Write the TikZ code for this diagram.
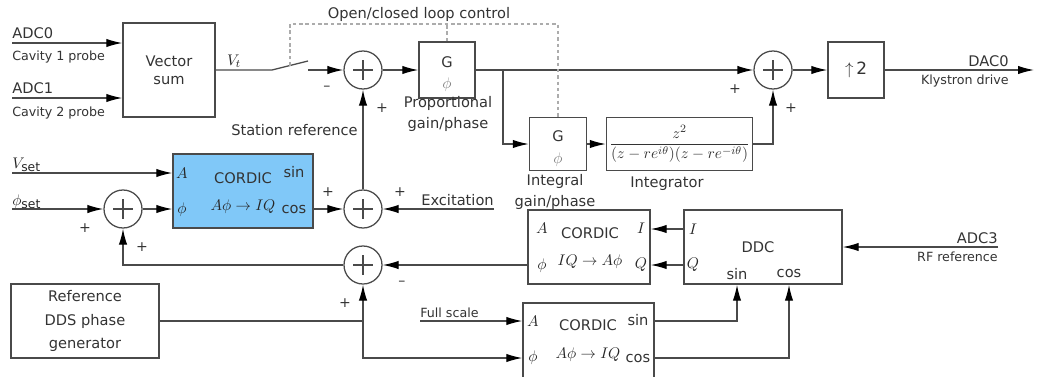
\documentclass[tikz,border=0pt]{standalone}
\usepackage{fontspec}
\setmainfont{DejaVu Sans}
\usetikzlibrary{arrows.meta, positioning, calc}
\definecolor{wire}{HTML}{4A4A4A}
\definecolor{txt}{HTML}{333333}
\definecolor{cordicbg}{HTML}{80C8F8}
\tikzset{
  blk/.style={draw=wire, line width=1pt, minimum width=1.4cm, minimum height=1.4cm,
              align=center, font=\fontsize{10.4}{13}\selectfont, text=txt, inner sep=2pt},
  sumnd/.style={draw=wire, circle, minimum size=0.95cm, inner sep=0pt, line width=0.9pt,
                path picture={\draw[wire, line width=0.8pt]
                  ([xshift=-0.24cm]path picture bounding box.center) --
                  ([xshift=0.24cm]path picture bounding box.center)
                  ([yshift=-0.24cm]path picture bounding box.center) --
                  ([yshift=0.24cm]path picture bounding box.center);}},
  arr/.style={-{Latex[length=4mm,width=2.1mm,black]}, line width=0.9pt, wire},
  wir/.style={line width=0.9pt, wire},
  ctl/.style={line width=0.8pt, gray!65, dash pattern=on 2.5pt off 2pt},
  sgn/.style={font=\fontsize{10}{11}\selectfont, text=txt, inner sep=0pt},
  lbl/.style={font=\fontsize{10.4}{12}\selectfont, text=txt, inner sep=0pt},
  sublbl/.style={font=\fontsize{9}{10}\selectfont, text=txt, inner sep=0pt},
  port/.style={inner sep=0pt, text=black!85, font=\fontsize{11}{13}\selectfont},
}

\begin{document}
\begin{tikzpicture}[x=0.025cm, y=-0.025cm]
  \useasboundingbox (0,0) rectangle (1037,376);

  %% ── Forward path (top) ───────────────────────────────────────────────

  \node[blk, minimum width=2.3cm, minimum height=2.35cm] (vsum) at (169,70) {Vector\\sum};
  \node[sumnd] (s1) at (363,70) {};
  \node[blk] (gp) at (447,70) {};
  \node[lbl] (gpG) at (447,62) {G};
  \node[port, text=gray] (gpPhi) at (447,85) {$\phi$};
  \node[sumnd] (s2) at (773,70) {};
  \node[blk, font=\fontsize{12}{13}\selectfont] (up2) at (856,70) {$\uparrow$\,2};

  \node[blk, minimum width=1.425cm, minimum height=1.33cm] (gi) at (558,144) {};
  \node[lbl] (giG) at (558,136) {G};
  \node[port, text=gray] (giPhi) at (558,160) {$\phi$};
  \node[blk, minimum width=3.275cm, minimum height=1.33cm, font=\fontsize{10.8}{13}\selectfont]
    (integ) at (679.5,144) {$\displaystyle\frac{z^2}{(z-re^{i\theta})(z-re^{-i\theta})}$};

  % inputs and labels
  \coordinate (in0) at (12,43);
  \coordinate (in1) at (12,98);
  \node[lbl, anchor=west] (adc0) at (12,33) {ADC0};
  \node[sublbl, anchor=west] (cav1) at (12,57) {Cavity 1 probe};
  \node[lbl, anchor=west] (adc1) at (12,88) {ADC1};
  \node[sublbl, anchor=west] (cav2) at (12,113) {Cavity 2 probe};
  \node[port] (vt) at (234,61) {$V_t$};

  \node[lbl, align=center, font=\fontsize{10.4}{15}\selectfont] (gplbl) at (448,114)
    {Proportional\\gain/phase};
  \node[lbl, align=center, font=\fontsize{10.4}{15}\selectfont] (gilbl) at (555,192)
    {Integral\\gain/phase};
  \node[lbl] (intlbl) at (667,184) {Integrator};
  \node[lbl] (ctllbl) at (419,14) {Open/closed loop control};

  \node[lbl, anchor=east] (dac0) at (1009,61) {DAC0};
  \node[sublbl, anchor=east] (kly) at (1009,81) {Klystron drive};
  \coordinate (out0) at (1034,70);

  % switch and control line
  \coordinate (sw1) at (272,70);
  \coordinate (sw2) at (308,61);
  \coordinate (sw3) at (308,70);
  \coordinate (swmid) at (290,65.5);
  \coordinate (ctlL) at (290,24);
  \coordinate (tap) at (503,70);

  \draw[arr] (in0) -- (vsum.west |- in0);
  \draw[arr] (in1) -- (vsum.west |- in1);
  \draw[wir] (vsum.east |- sw1) -- (sw1) -- (sw2);
  \draw[arr] (sw3) -- (s1);
  \draw[arr] (s1) -- (gp.west |- s1);
  \draw[arr] (gp.east |- s2) -- (s2);
  \draw[arr] (tap) |- (gi);
  \draw[arr] (gi) -- (integ);
  \draw[arr] (integ) -| (s2);
  \draw[arr] (s2) -- (up2);
  \draw[arr] (up2) -- (out0);
  \draw[ctl] (swmid) -- (ctlL) -| (gi.north);
  \draw[ctl] (gp.north) -- (gp.north |- ctlL);

  \node[sgn] (m1) at (327,88) {–};
  \node[sgn] (p1) at (382,108) {+};
  \node[sgn] (p2) at (735,89) {+};
  \node[sgn] (p3) at (791,108) {+};

  %% ── Set point and station reference (middle left) ──────────────────

  \node[blk, fill=cordicbg, minimum width=3.5cm, minimum height=1.85cm] (ca) at (243,191) {};
  \node[port] (caA) at (182,173) {$A$};
  \node[lbl] (caCord) at (243,178) {CORDIC};
  \node[lbl] (caSin) at (294,172) {sin};
  \node[port] (caPhi) at (182,210) {$\phi$};
  \node[port] (caMap) at (243,207) {$A\phi\rightarrow IQ$};
  \node[lbl] (caCos) at (294,210) {cos};

  \node[sumnd] (s3) at (123,209) {};
  \node[sumnd] (s4) at (363,209) {};
  \node[sumnd] (s5) at (363,265) {};

  \node[port, anchor=west] (vset) at (12,165) {$V_{\mbox{\fontsize{8.8}{9}\selectfont set}}$};
  \node[port, anchor=west] (phiset) at (12,202) {$\phi_{\mbox{\fontsize{8.8}{9}\selectfont set}}$};
  \coordinate (vsetin) at (12,173);
  \coordinate (phiin) at (12,209);
  \node[lbl, anchor=east] (stref) at (358,130) {Station reference};
  \node[lbl, anchor=east] (exc) at (494,200) {Excitation};
  \coordinate (excin) at (494,209);

  \draw[arr] (vsetin) -- (ca.west |- vsetin);
  \draw[arr] (phiin) -- (s3);
  \draw[arr] (s3) -- (ca.west |- s3);
  \draw[arr] (ca.east |- s4) -- (s4);
  \draw[arr] (excin) -- (s4);
  \draw[arr] (s4) -- (s1);
  \draw[arr] (s5) -| (s3);

  \node[sgn] (p4) at (85,228) {+};
  \node[sgn] (p5) at (142,247) {+};
  \node[sgn] (p6) at (328,192) {+};
  \node[sgn] (p7) at (400,192) {+};
  \node[sgn] (m2) at (402,283) {–};
  \node[sgn] (p8) at (345,303) {+};

  %% ── Reference phase, DDC and CORDICs (bottom) ──────────────────────

  \node[blk, minimum width=3.7cm, minimum height=1.85cm,
        font=\fontsize{10.4}{16.7}\selectfont] (dds) at (85,321) {Reference\\DDS phase\\generator};

  \node[blk, minimum width=3.05cm, minimum height=1.85cm] (cb) at (589,247) {};
  \node[port] (cbA) at (542,228) {$A$};
  \node[lbl] (cbCord) at (590,233) {CORDIC};
  \node[port] (cbI) at (641,228) {$I$};
  \node[port] (cbPhi) at (542,266) {$\phi$};
  \node[port] (cbMap) at (590,262) {$IQ\rightarrow A\phi$};
  \node[port] (cbQ) at (641,265) {$Q$};

  \node[blk, minimum width=3.95cm, minimum height=1.85cm] (ddc) at (763,247) {};
  \node[lbl] (ddcLbl) at (758,247) {DDC};
  \node[port] (ddcI) at (693,229) {$I$};
  \node[port] (ddcQ) at (693,265) {$Q$};
  \node[lbl] (ddcSin) at (737,274) {sin};
  \node[lbl] (ddcCos) at (789,274) {cos};

  \node[blk, minimum width=3.275cm, minimum height=1.9cm] (cc) at (588.5,341) {};
  \node[port] (ccA) at (533,321) {$A$};
  \node[lbl] (ccCord) at (588,325) {CORDIC};
  \node[lbl] (ccSin) at (638,320) {sin};
  \node[port] (ccPhi) at (533,358) {$\phi$};
  \node[port] (ccMap) at (588,355) {$A\phi\rightarrow IQ$};
  \node[lbl] (ccCos) at (638,358) {cos};

  \node[lbl, anchor=east] (adc3) at (998,238) {ADC3};
  \node[sublbl, anchor=east] (rfref) at (998,257) {RF reference};
  \coordinate (adc3in) at (998,247);
  \node[sublbl, anchor=west] (fslbl) at (420,313) {Full scale};
  \coordinate (fsin) at (420,321);
  \coordinate (jn) at (363,321);
  \coordinate (jn2) at (363,358);

  \draw[wir] (dds) -- (jn);
  \draw[arr] (jn) -- (s5);
  \draw[arr] (jn) -- (jn2) -- (cc.west |- jn2);
  \draw[arr] (fsin) -- (cc.west |- fsin);
  \draw[arr] (cc.east |- fsin) -| (ddcSin |- ddc.south);
  \draw[arr] (cc.east |- jn2) -| (ddcCos |- ddc.south);
  \draw[arr] (ddc.west |- ddcI) -- (cb.east |- ddcI);
  \draw[arr] (ddc.west |- ddcQ) -- (cb.east |- ddcQ);
  \draw[arr] (cb.west |- s5) -- (s5);
  \draw[arr] (adc3in) -- (ddc.east |- adc3in);

\end{tikzpicture}
\end{document}
